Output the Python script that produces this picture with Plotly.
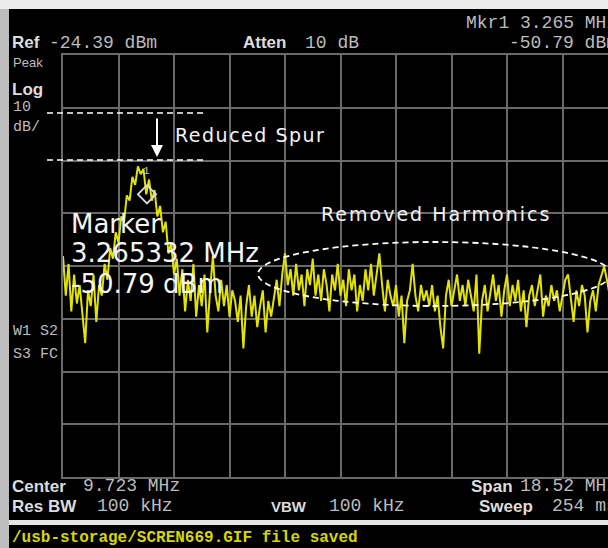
import numpy as np
import plotly.graph_objects as go

# ---- instrument settings ----
center_mhz = 9.723
span_mhz = 18.52
ref_dbm = -24.39
db_per_div = 10
marker_mhz = 3.265332
marker_dbm = -50.79

# ---- trace levels (dBm), left to right across the sweep ----
trace_dbm = [
    -62.5, -70, -64, -73, -66, -71.5, -68, -74, -79, -69,
    -72, -66, -75, -68, -70, -64, -67, -61, -63, -58,
    -60, -55, -56, -51, -52, -47.5, -49, -45.5, -47, -46,
    -50.8, -48, -52, -50, -55, -53, -58, -56, -62, -60,
    -66, -63, -70, -65, -73, -67, -71, -64, -74, -68,
    -72, -66, -77, -69, -62.5, -70, -73, -67, -72, -68,
    -74, -69, -71, -75, -70, -80, -72, -68, -74, -70,
    -76, -72, -69, -77, -71, -74, -70, -67, -72, -66,
    -62, -68, -65, -70, -64, -69, -66, -72, -65, -68,
    -63, -70, -66, -71, -65, -68, -73, -66, -69, -64,
    -70, -67, -72, -65, -69, -66, -73, -68, -71, -65,
    -69, -64, -70, -66, -62, -68, -73, -67, -70, -72,
    -68, -74, -70, -79, -71, -69, -64, -70, -73, -68,
    -71, -69, -72, -68, -73, -70, -76, -80, -70, -67,
    -72, -69, -66, -71, -68, -72, -67, -70, -73, -66,
    -81, -71, -68, -73, -69, -66, -71, -68, -74, -69,
    -66, -72, -68, -71, -67, -73, -69, -76, -70, -68,
    -72, -69, -66, -74, -70, -72, -68, -71, -69, -73,
    -70, -67, -66, -71, -75, -69, -72, -68, -70, -77,
    -71, -69, -73, -68, -66, -64.5, -67, -70, -66, -71,
    -68,
]

start_mhz = center_mhz - span_mhz / 2
stop_mhz = center_mhz + span_mhz / 2
freqs = np.linspace(start_mhz, stop_mhz, len(trace_dbm))

# ---- page geometry ----
W, H = 608, 548
L, T, B = 63, 55, 71
PW = W - L
PH = H - T - B
div_px = 55.5
x_end = start_mhz + PW / div_px * span_mhz / 10
n_vdiv = 8


def xp(px):
    return (px - L) / PW


def yp(py):
    return (H - B - py) / PH


fig = go.Figure()
fig.add_trace(go.Scatter(
    x=freqs, y=trace_dbm, mode="lines",
    line=dict(color="#e3e300", width=2),
    hoverinfo="skip", showlegend=False,
))
# marker symbol
fig.add_trace(go.Scatter(
    x=[marker_mhz], y=[marker_dbm], mode="markers",
    marker=dict(symbol="diamond-open", size=14, color="#d8d8d8",
                line=dict(width=1.8, color="#d8d8d8")),
    hoverinfo="skip", showlegend=False,
))

grid = "#6a6a6a"
fig.update_xaxes(
    range=[start_mhz, x_end], tick0=start_mhz, dtick=span_mhz / 10,
    showgrid=True, gridcolor=grid, gridwidth=2, showticklabels=False,
    ticks="", zeroline=False, showline=True, linecolor=grid, linewidth=2,
    mirror=True, fixedrange=True,
)
fig.update_yaxes(
    range=[ref_dbm - n_vdiv * db_per_div, ref_dbm], tick0=ref_dbm,
    dtick=db_per_div, showgrid=True, gridcolor=grid, gridwidth=2,
    showticklabels=False, ticks="", zeroline=False, showline=True,
    linecolor=grid, linewidth=2, fixedrange=True,
)

MONO = "Liberation Mono"
SANS = "Liberation Sans"
LBL = "#dcdcdc"
VAL = "#bcbcbc"


def txt(s, px, py, size, color=VAL, family=MONO, bold=False, anchor="left"):
    fig.add_annotation(
        x=xp(px), y=yp(py), xref="paper", yref="paper",
        text=f"<b>{s}</b>" if bold else s, showarrow=False,
        xanchor=anchor, yanchor="middle", borderpad=0,
        font=dict(size=size, color=color, family=family),
    )


# header
txt("Mkr1 3.265 MHz", 465, 23, 18)
txt("Ref", 11, 43, 17, LBL, SANS, True)
txt("-24.39 dBm", 48, 43, 18)
txt("Atten", 242, 43, 17, LBL, SANS, True)
txt("10 dB", 304, 43, 18)
txt("-50.79 dBm", 508, 43, 18)
# left column
txt("Peak", 12, 63, 13, VAL, SANS)
txt("Log", 11, 89, 17, LBL, SANS, True)
txt("10", 12, 107, 15)
txt("dB/", 12, 127, 15)
txt("W1 S2", 12, 331, 15)
txt("S3 FC", 12, 354, 15)
# footer
txt("Center", 11, 486, 17, LBL, SANS, True)
txt("9.723 MHz", 82, 486, 18)
txt("Res BW", 11, 506, 17, LBL, SANS, True)
txt("100 kHz", 96, 506, 18)
txt("VBW", 270, 506, 15, LBL, SANS, True)
txt("100 kHz", 328, 506, 18)
txt("Span", 470, 486, 17, LBL, SANS, True)
txt("18.52 MHz", 519, 486, 18)
txt("Sweep", 478, 506, 17, LBL, SANS, True)
txt("254 ms", 551, 506, 18)
txt("/usb-storage/SCREN669.GIF file saved", 11, 538, 16, "#d6d600", MONO, True)

# overlay annotations
WH = "#f4f4f4"
txt("<span style='letter-spacing:1.5px'>Reduced Spur</span>", 174, 135, 19, WH, "DejaVu Sans")
txt("<span style='letter-spacing:2px'>Removed Harmonics</span>", 320, 214, 19, WH, "DejaVu Sans")
txt("Marker", 70, 224, 26, WH, "DejaVu Sans")
txt("3.265332 MHz", 70, 253, 26, WH, "DejaVu Sans")
txt("-50.79 dBm", 70, 284, 26, WH, "DejaVu Sans")

# marker number
fig.add_annotation(x=marker_mhz, y=marker_dbm, xref="x", yref="y", text="1",
                   showarrow=False, yshift=23, font=dict(size=11, color="#c8c8c8", family=MONO))

# arrow
fig.add_annotation(x=xp(157), y=yp(157), xref="paper", yref="paper",
                   ax=0, ay=-40, axref="pixel", ayref="pixel", text="",
                   showarrow=True, arrowhead=2, arrowsize=1.2, arrowwidth=2,
                   arrowcolor="white")

shapes = []
# dashed reference lines
for py in (113, 160):
    shapes.append(dict(type="line", xref="paper", yref="paper",
                       x0=xp(47), x1=xp(203), y0=yp(py), y1=yp(py),
                       line=dict(color="white", width=1.6, dash="6px,4px"), layer="above"))
# ellipse around harmonics
shapes.append(dict(type="circle", xref="paper", yref="paper",
                   x0=xp(258), x1=xp(611), y0=yp(306), y1=yp(242),
                   line=dict(color="white", width=1.8, dash="6px,4px"), layer="above"))
# screen frame
shapes.append(dict(type="rect", xref="paper", yref="paper", x0=xp(0), x1=xp(9),
                   y0=yp(H), y1=yp(0), fillcolor="#bdbdbd", line=dict(width=0), layer="above"))
shapes.append(dict(type="rect", xref="paper", yref="paper", x0=xp(0), x1=xp(W),
                   y0=yp(9), y1=yp(0), fillcolor="#ececec", line=dict(width=0), layer="above"))
shapes.append(dict(type="rect", xref="paper", yref="paper", x0=xp(9), x1=xp(W),
                   y0=yp(525), y1=yp(520), fillcolor="#e4e4e4", line=dict(width=0), layer="above"))

fig.update_layout(
    width=W, height=H, margin=dict(l=L, r=0, t=T, b=B, pad=0),
    paper_bgcolor="black", plot_bgcolor="black", showlegend=False,
    shapes=shapes, hovermode=False,
)

fig.write_html("out.html", config={"displayModeBar": False})
